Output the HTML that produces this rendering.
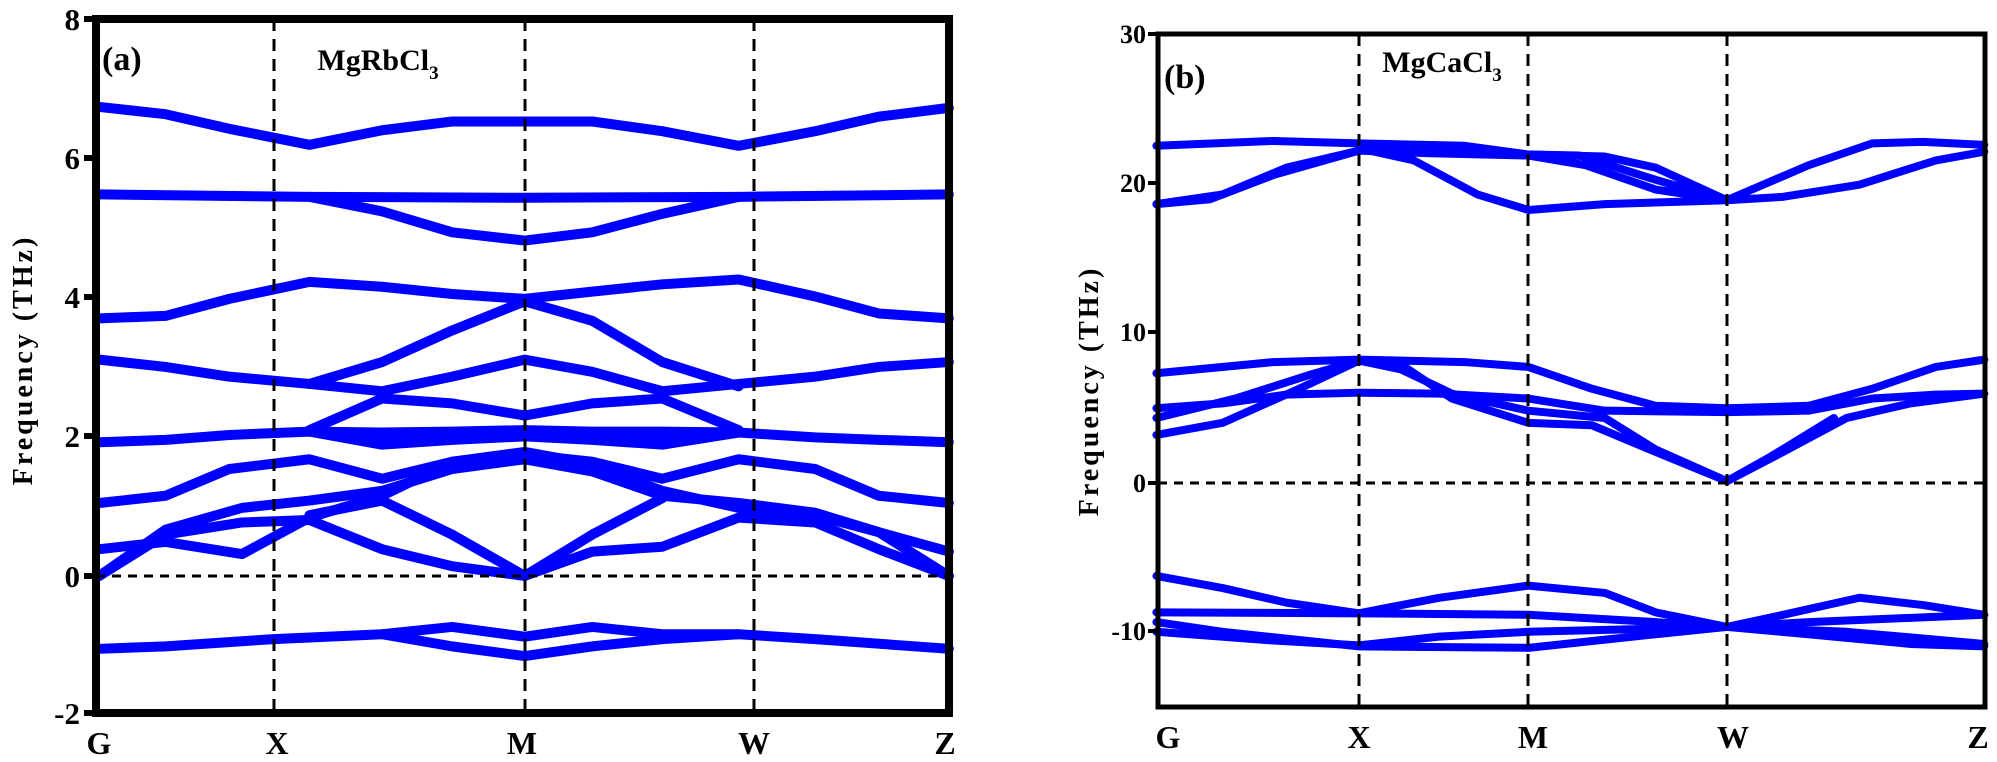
<!DOCTYPE html>
<html><head><meta charset="utf-8"><style>
html,body{margin:0;padding:0;background:#fff;}
svg{display:block;}
text{font-family:"Liberation Serif",serif;font-weight:bold;fill:#000;}
</style></head><body>
<svg width="1997" height="762" viewBox="0 0 1997 762" xmlns="http://www.w3.org/2000/svg">
<g transform="scale(1.2736,0.486)" fill="none" stroke="#0000ff" stroke-linejoin="round" stroke-linecap="round">
<g stroke-width="10">
<polyline vector-effect="non-scaling-stroke" points="78,220 130,235 180,265 243,298 300,268 355,250 465,250 520,270 580,300 640,270 690,240 745,222"/>
<polyline vector-effect="non-scaling-stroke" points="78,400 243,405 412,407 580,405 745,400"/>
<polyline vector-effect="non-scaling-stroke" points="243,405 300,435 355,478 412,495 465,478 520,440 580,405"/>
<polyline vector-effect="non-scaling-stroke" points="78,655 130,650 180,615 243,580 300,590 355,605 412,615 465,600 520,585 580,575 640,610 690,645 745,655"/>
<polyline vector-effect="non-scaling-stroke" points="243,790 300,745 355,680 412,620 465,660 520,745 580,795"/>
<polyline vector-effect="non-scaling-stroke" points="78,740 130,755 180,775 243,790 300,805 355,775 412,740 465,765 520,805 580,790 640,775 690,755 745,745"/>
<polyline vector-effect="non-scaling-stroke" points="243,885 300,820 355,830 412,855 465,830 520,820 580,885"/>
<polyline vector-effect="non-scaling-stroke" points="78,910 130,905 180,895 243,888 300,890 355,888 412,885 465,888 520,888 580,890 640,900 690,905 745,910"/>
<polyline vector-effect="non-scaling-stroke" points="243,888 300,915 355,905 412,898 465,905 520,915 580,890"/>
<polyline vector-effect="non-scaling-stroke" points="243,888 300,905 355,900 412,890 465,900 520,905 580,890"/>
<polyline vector-effect="non-scaling-stroke" points="78,1035 130,1020 180,965 243,945 300,985 355,950 412,935 465,950 520,985 580,945 640,965 690,1020 745,1035"/>
<polyline vector-effect="non-scaling-stroke" points="78,1185 130,1090 190,1045 243,1030 300,1010 355,965 412,945 465,970 520,1020 580,1035 640,1055 690,1095 745,1185"/>
<polyline vector-effect="non-scaling-stroke" points="78,1130 130,1115 190,1140 243,1065 300,1020 355,950 412,930 465,955 520,1010 580,1045 640,1060 690,1095 745,1135"/>
<polyline vector-effect="non-scaling-stroke" points="78,1185 130,1100 190,1075 243,1070 300,1130 355,1165 412,1185 465,1135 520,1125 580,1065 640,1075 690,1130 745,1185"/>
<polyline vector-effect="non-scaling-stroke" points="243,1060 300,1030 355,1100 412,1185 465,1100 520,1025"/>
<polyline vector-effect="non-scaling-stroke" points="78,1335 130,1330 215,1315 300,1305 355,1290 412,1310 465,1290 520,1305 580,1305 640,1315 745,1335"/>
<polyline vector-effect="non-scaling-stroke" points="300,1305 355,1330 412,1350 465,1330 520,1315 580,1305"/>
</g>
<g stroke-width="8">
<polyline vector-effect="non-scaling-stroke" points="908,300 1000,290 1067,295 1150,300 1200,318 1240,320 1300,370 1356,412 1420,340 1470,295 1510,292 1558,298"/>
<polyline vector-effect="non-scaling-stroke" points="908,420 950,410 1000,360 1067,310 1120,300 1200,318 1260,322 1300,345 1356,412"/>
<polyline vector-effect="non-scaling-stroke" points="908,420 960,400 1010,345 1067,310 1120,315 1200,320 1245,340 1300,390 1356,412"/>
<polyline vector-effect="non-scaling-stroke" points="1067,305 1110,330 1160,400 1200,432 1260,420 1356,412 1400,405 1460,380 1520,330 1558,312"/>
<polyline vector-effect="non-scaling-stroke" points="908,768 1000,745 1067,740 1150,745 1200,755 1250,800 1300,835 1356,840 1420,835 1470,800 1520,755 1558,740"/>
<polyline vector-effect="non-scaling-stroke" points="908,840 960,830 1010,812 1067,808 1130,810 1200,820 1260,845 1356,848 1420,845 1470,820 1520,812 1558,810"/>
<polyline vector-effect="non-scaling-stroke" points="908,895 960,870 1020,800 1067,742 1100,750 1140,820 1200,870 1250,875 1300,930 1356,990 1400,930 1450,860 1500,830 1558,810"/>
<polyline vector-effect="non-scaling-stroke" points="908,860 970,820 1030,770 1067,742 1100,760 1140,810 1200,845 1260,860 1300,925 1356,990 1390,940 1440,860"/>
<polyline vector-effect="non-scaling-stroke" points="908,1185 960,1210 1010,1240 1067,1262 1130,1230 1200,1205 1260,1220 1300,1260 1356,1290 1400,1265 1460,1230 1510,1245 1558,1265"/>
<polyline vector-effect="non-scaling-stroke" points="908,1260 1067,1262 1200,1265 1300,1280 1356,1290 1420,1280 1558,1265"/>
<polyline vector-effect="non-scaling-stroke" points="908,1280 960,1300 1067,1330 1200,1333 1300,1305 1356,1290 1420,1305 1500,1325 1558,1330"/>
<polyline vector-effect="non-scaling-stroke" points="908,1300 1000,1318 1067,1328 1130,1310 1200,1300 1356,1290 1450,1300 1558,1325"/>
</g>
</g>
<g stroke="#000" fill="none">
<line x1="96" y1="576" x2="949" y2="576" stroke-width="3" stroke-dasharray="9,7"/>
<line x1="274" y1="19" x2="274" y2="713" stroke-width="3" stroke-dasharray="12,8"/>
<line x1="525" y1="19" x2="525" y2="713" stroke-width="3" stroke-dasharray="12,8"/>
<line x1="754" y1="19" x2="754" y2="713" stroke-width="3" stroke-dasharray="12,8"/>
<rect x="96" y="19" width="853" height="694" stroke-width="8"/>
<line x1="84" y1="19" x2="96" y2="19" stroke-width="6"/>
<line x1="84" y1="158" x2="96" y2="158" stroke-width="6"/>
<line x1="84" y1="297" x2="96" y2="297" stroke-width="6"/>
<line x1="84" y1="436" x2="96" y2="436" stroke-width="6"/>
<line x1="84" y1="576" x2="96" y2="576" stroke-width="6"/>
<line x1="84" y1="713" x2="96" y2="713" stroke-width="6"/>
</g>
<g font-size="31" text-anchor="end">
<text x="80" y="30">8</text><text x="80" y="169">6</text><text x="80" y="308">4</text>
<text x="80" y="447">2</text><text x="80" y="587">0</text><text x="80" y="724">-2</text>
</g>
<g font-size="32" text-anchor="middle">
<text x="99" y="754">G</text><text x="277" y="754">X</text><text x="522" y="754">M</text>
<text x="754" y="754">W</text><text x="945" y="754">Z</text>
</g>
<text x="102" y="70" font-size="34">(a)</text>
<text x="378" y="70" font-size="30" text-anchor="middle">MgRbCl<tspan font-size="19" dy="9">3</tspan></text>
<text transform="translate(32,360) rotate(-90)" font-size="28" letter-spacing="3" text-anchor="middle">Frequency (THz)</text>
<g stroke="#000" fill="none">
<line x1="1158" y1="483" x2="1985" y2="483" stroke-width="3" stroke-dasharray="9,7"/>
<line x1="1359" y1="34" x2="1359" y2="707" stroke-width="3" stroke-dasharray="12,8"/>
<line x1="1528" y1="34" x2="1528" y2="707" stroke-width="3" stroke-dasharray="12,8"/>
<line x1="1727" y1="34" x2="1727" y2="707" stroke-width="3" stroke-dasharray="12,8"/>
<rect x="1158" y="34" width="827" height="673" stroke-width="5"/>
<line x1="1148" y1="34" x2="1158" y2="34" stroke-width="4"/>
<line x1="1148" y1="183" x2="1158" y2="183" stroke-width="4"/>
<line x1="1148" y1="332" x2="1158" y2="332" stroke-width="4"/>
<line x1="1148" y1="483" x2="1158" y2="483" stroke-width="4"/>
<line x1="1148" y1="631" x2="1158" y2="631" stroke-width="4"/>
</g>
<g font-size="26" text-anchor="end">
<text x="1146" y="43">30</text><text x="1146" y="192">20</text><text x="1146" y="341">10</text>
<text x="1146" y="492">0</text><text x="1146" y="640">-10</text>
</g>
<g font-size="32" text-anchor="middle">
<text x="1168" y="748">G</text><text x="1359" y="748">X</text><text x="1533" y="748">M</text>
<text x="1733" y="748">W</text><text x="1978" y="748">Z</text>
</g>
<text x="1164" y="88" font-size="34">(b)</text>
<text x="1442" y="72" font-size="30" text-anchor="middle">MgCaCl<tspan font-size="19" dy="9">3</tspan></text>
<text transform="translate(1098,391) rotate(-90)" font-size="28" letter-spacing="3" text-anchor="middle">Frequency (THz)</text>
</svg>
</body></html>
